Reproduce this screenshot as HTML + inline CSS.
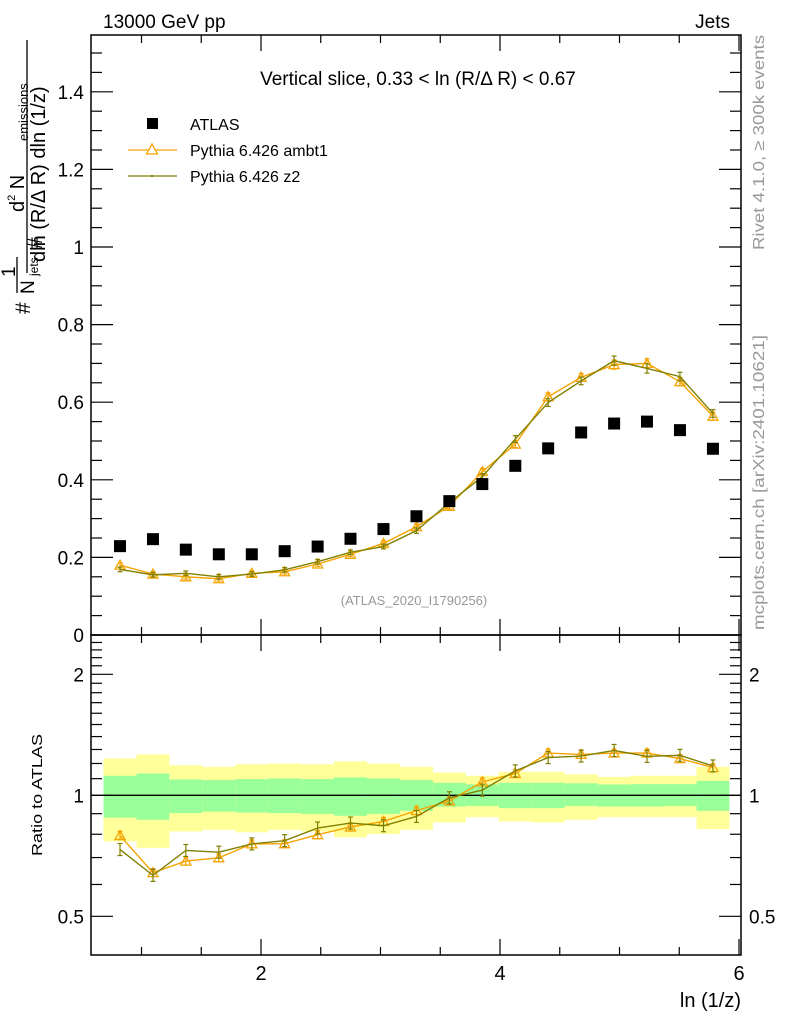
<!DOCTYPE html>
<html><head><meta charset="utf-8"><style>
body{margin:0;background:#fff;width:786px;height:1024px;overflow:hidden;font-family:"Liberation Sans",sans-serif}
svg text{font-family:"Liberation Sans","DejaVu Sans",sans-serif}
</style></head><body>
<svg id="chart" width="786" height="1024" xmlns="http://www.w3.org/2000/svg">
<g id="bands"></g>
<g id="marks"></g>
<g id="axes"></g>
<text x="103" y="28" font-size="19">13000 GeV pp</text>
<text x="730" y="28" font-size="19" text-anchor="end">Jets</text>
<text x="418" y="85" font-size="19" text-anchor="middle">Vertical slice, 0.33 &lt; ln (R/Δ R) &lt; 0.67</text>
<g>
<rect x="147" y="118" width="11" height="11" fill="#000"/>
<text x="190" y="130" font-size="16">ATLAS</text>
<line x1="128" y1="150" x2="177" y2="150" stroke="#f5a300" stroke-width="1.3"/>
<path d="M152,144 L157.5,154 L146.5,154 Z" fill="#fff" stroke="#f5a300" stroke-width="1.3"/>
<text x="190" y="156" font-size="16">Pythia 6.426 ambt1</text>
<line x1="128" y1="176" x2="177" y2="176" stroke="#808000" stroke-width="1.3"/>
<rect x="151" y="175" width="2" height="2" fill="#808000"/>
<text x="190" y="182" font-size="16">Pythia 6.426 z2</text>
</g>
<text x="414" y="605" font-size="13" fill="#999" text-anchor="middle">(ATLAS_2020_I1790256)</text>
<text transform="translate(764,250) rotate(-90)" font-size="16" fill="#999" textLength="215" lengthAdjust="spacingAndGlyphs">Rivet 4.1.0, ≥ 300k events</text>
<text transform="translate(764,630) rotate(-90)" font-size="16" fill="#999" textLength="295" lengthAdjust="spacingAndGlyphs">mcplots.cern.ch [arXiv:2401.10621]</text>
<g>
<text transform="translate(45,262) rotate(-90)" font-size="20">dln (R/Δ R) dln (1/z)</text>
<line x1="27" y1="273" x2="27" y2="40" stroke="#000" stroke-width="1.3"/>
<text transform="translate(24,212) rotate(-90)" font-size="20">d<tspan font-size="11" dy="-9">2</tspan><tspan dy="9"> N</tspan></text>
<text transform="translate(28,141) rotate(-90)" font-size="13">emissions</text>
<text transform="translate(42,249) rotate(-90)" font-size="21">#</text>
<text transform="translate(15,277) rotate(-90)" font-size="19">1</text>
<line x1="17" y1="293" x2="17" y2="257" stroke="#000" stroke-width="1.3"/>
<text transform="translate(34,294) rotate(-90)" font-size="19">N</text>
<text transform="translate(38,276) rotate(-90)" font-size="12">jets</text>
<text transform="translate(30,314) rotate(-90)" font-size="21">#</text>
</g>
<text transform="translate(42,856) rotate(-90)" font-size="15" textLength="122" lengthAdjust="spacingAndGlyphs">Ratio to ATLAS</text>
<text x="741" y="1007" font-size="20" text-anchor="end">ln (1/z)</text>
</svg>
<script>
const xVals=[0.82,1.096,1.371,1.647,1.923,2.198,2.474,2.749,3.025,3.301,3.576,3.852,4.128,4.403,4.679,4.955,5.23,5.506,5.782];
const atlas=[0.229,0.247,0.220,0.208,0.208,0.216,0.228,0.248,0.273,0.306,0.345,0.389,0.436,0.481,0.522,0.545,0.550,0.528,0.480];
const ambt1=[0.180,0.157,0.150,0.145,0.159,0.163,0.183,0.208,0.236,0.279,0.332,0.421,0.492,0.614,0.664,0.697,0.700,0.653,0.564];
const z2=[0.169,0.155,0.159,0.150,0.157,0.168,0.189,0.213,0.228,0.269,0.341,0.408,0.505,0.599,0.655,0.707,0.687,0.666,0.571];
const mcErr=[0.006,0.006,0.006,0.006,0.006,0.006,0.006,0.006,0.006,0.007,0.007,0.008,0.009,0.01,0.01,0.012,0.012,0.011,0.01];
const ratioAmbt1=[0.794,0.642,0.686,0.699,0.757,0.758,0.798,0.834,0.861,0.916,0.968,1.080,1.133,1.274,1.264,1.274,1.274,1.234,1.172];
const ratioZ2=[0.733,0.632,0.729,0.722,0.757,0.771,0.829,0.853,0.840,0.886,0.986,1.030,1.150,1.241,1.252,1.293,1.250,1.257,1.183];
const yellowHi=[1.234,1.264,1.188,1.177,1.195,1.199,1.195,1.215,1.199,1.177,1.139,1.118,1.144,1.144,1.127,1.111,1.118,1.118,1.177];
const greenHi=[1.118,1.133,1.095,1.091,1.097,1.101,1.097,1.108,1.101,1.091,1.074,1.064,1.074,1.074,1.071,1.064,1.066,1.066,1.086];
const greenLo=[0.880,0.869,0.903,0.911,0.906,0.903,0.899,0.889,0.899,0.915,0.937,0.941,0.929,0.929,0.941,0.937,0.937,0.941,0.915];
const yellowLo=[0.768,0.740,0.813,0.821,0.809,0.821,0.813,0.786,0.801,0.821,0.856,0.882,0.861,0.856,0.869,0.882,0.882,0.882,0.824];
const mainTicks=["0","0.2","0.4","0.6","0.8","1","1.2","1.4"];
const ratioTicks=["0.5","1","2"];
const xTicks=["2","4","6"];

const NS="http://www.w3.org/2000/svg";
const L=91,R=741,T=35,MB=635,RB=955;
const X=v=>261+(v-2)*119.5;
const Y=v=>635-388*v;
const RY=r=>795.3-121*Math.log2(r);
const halfBin=(X(xVals[1])-X(xVals[0]))/2;
function mk(p,tag,a){const e=document.createElementNS(NS,tag);for(const k in a)e.setAttribute(k,a[k]);p.appendChild(e);return e;}
const bands=document.getElementById('bands'),marks=document.getElementById('marks'),axes=document.getElementById('axes');

xVals.forEach((x,i)=>{
 const x0=X(x)-halfBin,w=2*halfBin;
 const y1=mk(bands,'rect',{x:x0,y:RY(yellowHi[i]),width:w,height:RY(yellowLo[i])-RY(yellowHi[i]),fill:'#ffff99'});
 
 
 const g1=mk(bands,'rect',{x:x0,y:RY(greenHi[i]),width:w,height:RY(greenLo[i])-RY(greenHi[i]),fill:'#99ff99'});
 
 
});
mk(bands,'line',{x1:L,x2:R,y1:RY(1),y2:RY(1),stroke:'#000','stroke-width':1.3});

function series(vals,yf,color,tri,name,errs){
 const pts=xVals.map((x,i)=>X(x)+','+yf(vals[i],i)).join(' ');
 const pl=mk(marks,'polyline',{points:pts,fill:'none',stroke:color,'stroke-width':1.4});
 
 
 xVals.forEach((x,i)=>{
  const cx=X(x),cy=yf(vals[i],i),e=errs(i);
  mk(marks,'line',{x1:cx,x2:cx,y1:cy-e,y2:cy+e,stroke:color,'stroke-width':1.2});
  mk(marks,'line',{x1:cx-2.5,x2:cx+2.5,y1:cy-e,y2:cy-e,stroke:color,'stroke-width':1.2});
  mk(marks,'line',{x1:cx-2.5,x2:cx+2.5,y1:cy+e,y2:cy+e,stroke:color,'stroke-width':1.2});
  if(tri){const t=mk(marks,'path',{d:`M${cx},${cy-5} L${cx+5},${cy+4} L${cx-5},${cy+4} Z`,fill:'none',stroke:color,'stroke-width':1.3});
   
   }
 });
}
series(ambt1,v=>Y(v),'#f5a300',true,'ambt1',i=>mcErr[i]*388);
series(z2,v=>Y(v),'#808000',false,'z2',i=>mcErr[i]*388);
series(ratioAmbt1,v=>RY(v),'#f5a300',true,'ratio-ambt1',i=>4);
series(ratioZ2,v=>RY(v),'#808000',false,'ratio-z2',i=>6);
xVals.forEach((x,i)=>{
 const r=mk(marks,'rect',{x:X(x)-6,y:Y(atlas[i])-6,width:12,height:12,fill:'#000'});
 
 
});

mk(axes,'rect',{x:L,y:T,width:R-L,height:MB-T,fill:'none',stroke:'#000','stroke-width':1.5});
mk(axes,'rect',{x:L,y:MB,width:R-L,height:RB-MB,fill:'none',stroke:'#000','stroke-width':1.5});
for(let v=1;v<=6.001;v+=0.5){
 const xx=X(v),maj=Math.abs(v-Math.round(v/2)*2)<1e-6,len=maj?16:8;
 if(xx<L||xx>R)continue;
 [[T,1],[MB,-1],[MB,1],[RB,-1]].forEach(([y,d])=>mk(axes,'line',{x1:xx,x2:xx,y1:y,y2:y+d*len,stroke:'#000','stroke-width':1.2}));
}
xTicks.forEach(t=>{const e=mk(axes,'text',{x:X(+t),y:980,'font-size':20,'text-anchor':'middle'});e.textContent=t;
 
 });
for(let k=0;k<=30;k++){const v=k*0.05,y=Y(v);if(y<T)break;const maj=k%4==0,len=maj?22:11;
 mk(axes,'line',{x1:L,x2:L+len,y1:y,y2:y,stroke:'#000','stroke-width':1.2});
 mk(axes,'line',{x1:R,x2:R-len,y1:y,y2:y,stroke:'#000','stroke-width':1.2});}
mainTicks.forEach(t=>{const e=mk(axes,'text',{x:84,y:Y(+t)+7,'font-size':19,'text-anchor':'end'});e.textContent=t;
 
 });
[0.4,0.5,0.6,0.7,0.8,0.9,1,1.1,1.2,1.3,1.4,1.5,1.6,1.7,1.8,1.9,2,2.1,2.2,2.3,2.4,2.5].forEach(r=>{
 const y=RY(r);if(y<MB+2||y>RB)return;const maj=(r==0.5||r==1||r==2),len=maj?22:11;
 mk(axes,'line',{x1:L,x2:L+len,y1:y,y2:y,stroke:'#000','stroke-width':1.2});
 mk(axes,'line',{x1:R,x2:R-len,y1:y,y2:y,stroke:'#000','stroke-width':1.2});});
ratioTicks.forEach(t=>{const e=mk(axes,'text',{x:84,y:RY(+t)+7,'font-size':19,'text-anchor':'end'});e.textContent=t;
 
 
 const e2=mk(axes,'text',{x:749,y:RY(+t)+7,'font-size':19});e2.textContent=t;
 
 });
</script>
</body></html>
